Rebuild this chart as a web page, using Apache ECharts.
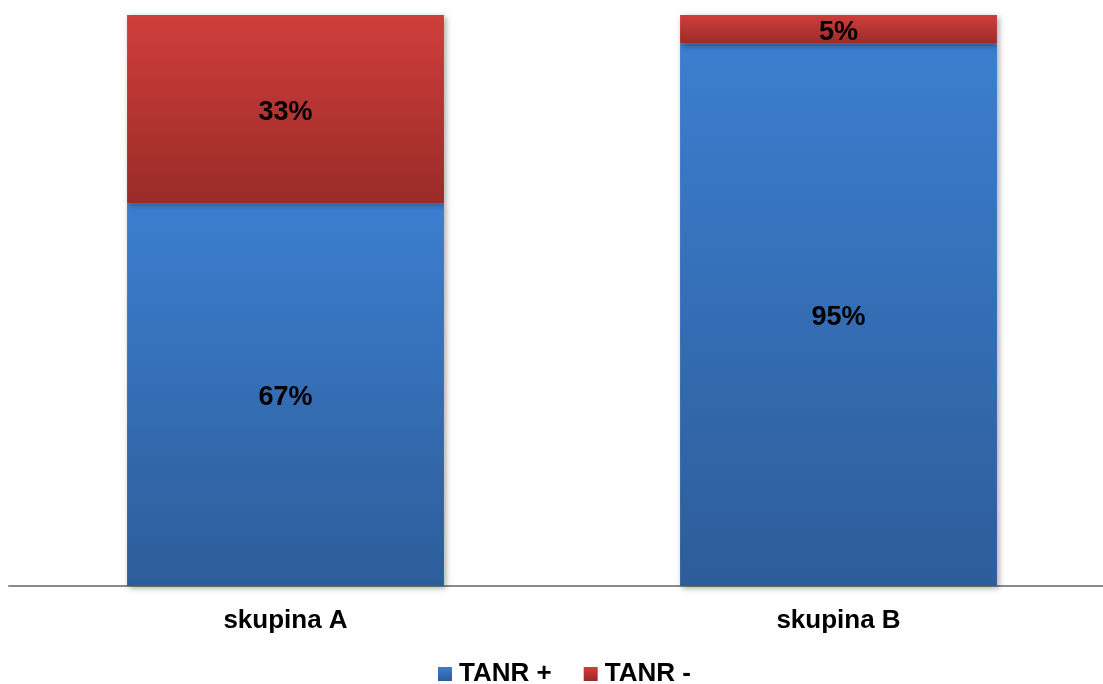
<!DOCTYPE html>
<html>
<head>
<meta charset="utf-8">
<script src="https://cdn.jsdelivr.net/npm/echarts@6/dist/echarts.min.js"></script>
<style>
  html, body { margin: 0; padding: 0; background: #ffffff; overflow: hidden; }
  #chart { width: 1115px; height: 684px; }
</style>
</head>
<body>
<div id="chart"></div>
<script>
// Share of TANR+ / TANR- per group (percent)
const categories = ['skupina A', 'skupina B'];
const tanrPlus = [67, 95];
const tanrMinus = [33, 5];
const seriesNames = ['TANR +', 'TANR -'];

const FONT = '"Liberation Sans", Arial, sans-serif';

function vGradient(top, bottom) {
  return new echarts.graphic.LinearGradient(0, 0, 0, 1, [
    { offset: 0, color: top },
    { offset: 1, color: bottom }
  ]);
}

const barStyle = {
  shadowBlur: 6,
  shadowColor: 'rgba(0,0,0,0.35)',
  shadowOffsetX: 2,
  shadowOffsetY: 2
};

const labelStyle = {
  show: true,
  position: 'inside',
  formatter: '{c}%',
  color: '#000000',
  fontFamily: FONT,
  fontWeight: 'bold',
  fontSize: 27,
  offset: [0, 3]
};

const chart = echarts.init(document.getElementById('chart'), null, { renderer: 'canvas' });

chart.setOption({
  animation: false,
  backgroundColor: '#ffffff',
  grid: { left: 9, right: 0, top: 15, bottom: 98, containLabel: false },
  legend: {
    data: seriesNames,
    left: 438,
    top: 661,
    padding: 0,
    itemWidth: 14,
    itemHeight: 14,
    itemGap: 32,
    icon: 'rect',
    textStyle: { fontFamily: FONT, fontWeight: 'bold', fontSize: 26, color: '#000000', padding: [0, 0, 0, 2] }
  },
  xAxis: {
    type: 'category',
    data: categories,
    axisLine: { lineStyle: { color: '#8a8a8a', width: 2 } },
    axisTick: { show: false },
    axisLabel: { fontFamily: FONT, fontWeight: 'bold', fontSize: 26, color: '#000000', margin: 22 }
  },
  yAxis: {
    type: 'value',
    min: 0,
    max: 100,
    show: false,
    splitLine: { show: false }
  },
  series: [
    {
      name: seriesNames[0],
      type: 'bar',
      stack: 'total',
      barWidth: '57.3%',
      data: tanrPlus,
      itemStyle: Object.assign({ color: vGradient('#3c7ed0', '#2d5d99') }, barStyle),
      label: labelStyle
    },
    {
      name: seriesNames[1],
      type: 'bar',
      stack: 'total',
      barWidth: '57.3%',
      data: tanrMinus,
      itemStyle: Object.assign({ color: vGradient('#cf3e3b', '#9a2b28') }, barStyle),
      label: labelStyle
    }
  ]
});
</script>
</body>
</html>
